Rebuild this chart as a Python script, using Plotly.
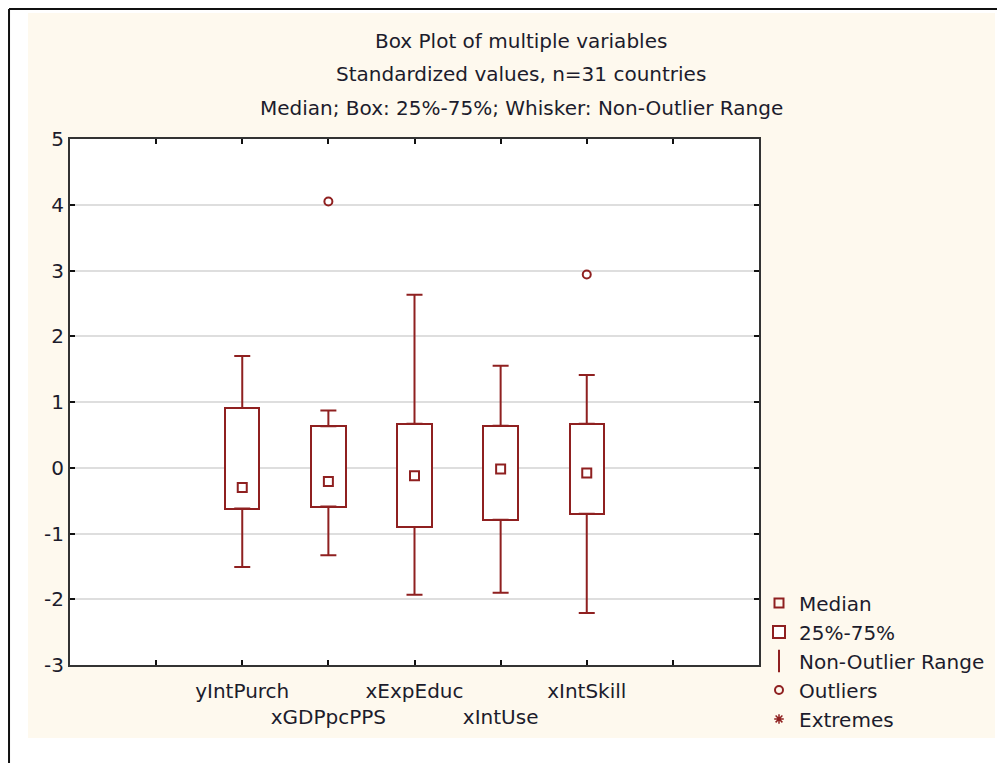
import plotly.graph_objects as go

# ---- data ----
variables = ["yIntPurch", "xGDPpcPPS", "xExpEduc", "xIntUse", "xIntSkill"]
positions = [2, 3, 4, 5, 6]
medians = [-0.30, -0.21, -0.12, -0.02, -0.08]
q1 = [-0.62, -0.59, -0.90, -0.79, -0.70]
q3 = [0.91, 0.63, 0.67, 0.64, 0.67]
lower_whisker = [-1.51, -1.33, -1.93, -1.90, -2.21]
upper_whisker = [1.70, 0.87, 2.63, 1.55, 1.41]
outlier_pos = [3, 6]
outlier_vals = [4.05, 2.94]

tick_vals = [1, 2, 3, 4, 5, 6, 7]
tick_text = ["", "yIntPurch", "<br>xGDPpcPPS", "xExpEduc", "<br>xIntUse", "xIntSkill", ""]
y_ticks = [-3, -2, -1, 0, 1, 2, 3, 4, 5]
y_tick_text = ["-3", "-2", "-1", "0", "1", "2", "3", "4", "5"]

title_lines = ["Box Plot of multiple variables",
               "Standardized values, n=31 countries",
               "Median; Box: 25%-75%; Whisker: Non-Outlier Range"]

RED = "#8f2020"
TXT = "#1c1c2c"
FONT = "DejaVu Sans"
FS = 20

fig = go.Figure()

# boxes 25%-75%
fig.add_trace(go.Bar(
    x=positions, y=[b - a for a, b in zip(q1, q3)], base=q1, width=0.4,
    marker=dict(color="white", line=dict(color=RED, width=2)),
    name="25%-75%", legendrank=2, hoverinfo="skip"))

# whiskers (non-outlier range)
wx = positions + positions
wy = q3 + q1
w_plus = [u - b for u, b in zip(upper_whisker, q3)] + [0] * len(q1)
w_minus = [0] * len(q3) + [a - l for a, l in zip(q1, lower_whisker)]
fig.add_trace(go.Scatter(
    x=wx, y=wy, mode="markers", marker=dict(size=0.1, color="rgba(0,0,0,0)"),
    error_y=dict(type="data", symmetric=False, array=w_plus, arrayminus=w_minus,
                 color=RED, thickness=2, width=8),
    showlegend=False, hoverinfo="skip"))

# medians
fig.add_trace(go.Scatter(
    x=positions, y=medians, mode="markers", name="Median", legendrank=1,
    marker=dict(symbol="square-open", size=9, color=RED, line=dict(width=2, color=RED))))

# legend entry for the whisker range
fig.add_trace(go.Scatter(
    x=[None], y=[None], mode="markers", name="Non-Outlier Range", legendrank=3,
    marker=dict(symbol="line-ns-open", size=16, color=RED, line=dict(width=2, color=RED))))

# outliers
fig.add_trace(go.Scatter(
    x=outlier_pos, y=outlier_vals, mode="markers", name="Outliers", legendrank=4,
    marker=dict(symbol="circle-open", size=8, color=RED, line=dict(width=2, color=RED))))

# extremes (none present)
fig.add_trace(go.Scatter(
    x=[None], y=[None], mode="markers", name="Extremes", legendrank=5,
    marker=dict(symbol="asterisk-open", size=8, color=RED, line=dict(width=1.5, color=RED))))

# title annotations
for line, yy in zip(title_lines, [1.1863, 1.1236, 1.0589]):
    fig.add_annotation(text=line, xref="paper", yref="paper", x=0.6546, y=yy,
                       xanchor="center", yanchor="middle", showarrow=False,
                       font=dict(family=FONT, size=FS, color=TXT))

shapes = [
    dict(type="rect", xref="paper", yref="paper", x0=-0.061, x1=1.3425, y0=-0.1388, y1=1.2395,
         fillcolor="#FEF9EE", line=dict(width=0), layer="below"),
    dict(type="rect", xref="paper", yref="paper", x0=0, x1=1, y0=0, y1=1,
         fillcolor="white", line=dict(width=0), layer="below"),
    dict(type="line", xref="paper", yref="paper", x0=-0.0885, x1=1.36, y0=1.2471, y1=1.2471,
         line=dict(color="#111111", width=2)),
    dict(type="line", xref="paper", yref="paper", x0=-0.0885, x1=-0.0885, y0=-0.19, y1=1.2471,
         line=dict(color="#111111", width=2)),
]

fig.update_layout(
    width=997, height=755, autosize=False,
    margin=dict(l=62, r=246, t=131, b=98, pad=0, autoexpand=False),
    paper_bgcolor="white", plot_bgcolor="white",
    font=dict(family=FONT, size=FS, color=TXT),
    shapes=shapes, bargap=0,
    legend=dict(x=1.0, xanchor="left", y=0.155, yanchor="top",
                bgcolor="rgba(0,0,0,0)", font=dict(family=FONT, size=FS, color=TXT),
                itemsizing="trace", tracegroupgap=0),
    showlegend=True,
)
fig.update_xaxes(range=[0, 8], tickvals=tick_vals, ticktext=tick_text, tickangle=0,
                 automargin=False, ticklabelstandoff=7,
                 showgrid=False, zeroline=False, showline=True, mirror="ticks",
                 linecolor="#333333", linewidth=2, ticks="inside", ticklen=5,
                 tickcolor="#111111", tickwidth=1.5,
                 tickfont=dict(family=FONT, size=FS, color=TXT))
fig.update_yaxes(range=[-3, 5], tickvals=y_ticks, ticktext=y_tick_text, automargin=False,
                 showgrid=True, gridcolor="#dedede", gridwidth=2, zeroline=False,
                 showline=True, mirror="ticks", linecolor="#333333", linewidth=2,
                 ticks="inside", ticklen=5, tickcolor="#111111", tickwidth=1.5,
                 tickfont=dict(family=FONT, size=FS, color=TXT))

fig.write_html("out.html")
